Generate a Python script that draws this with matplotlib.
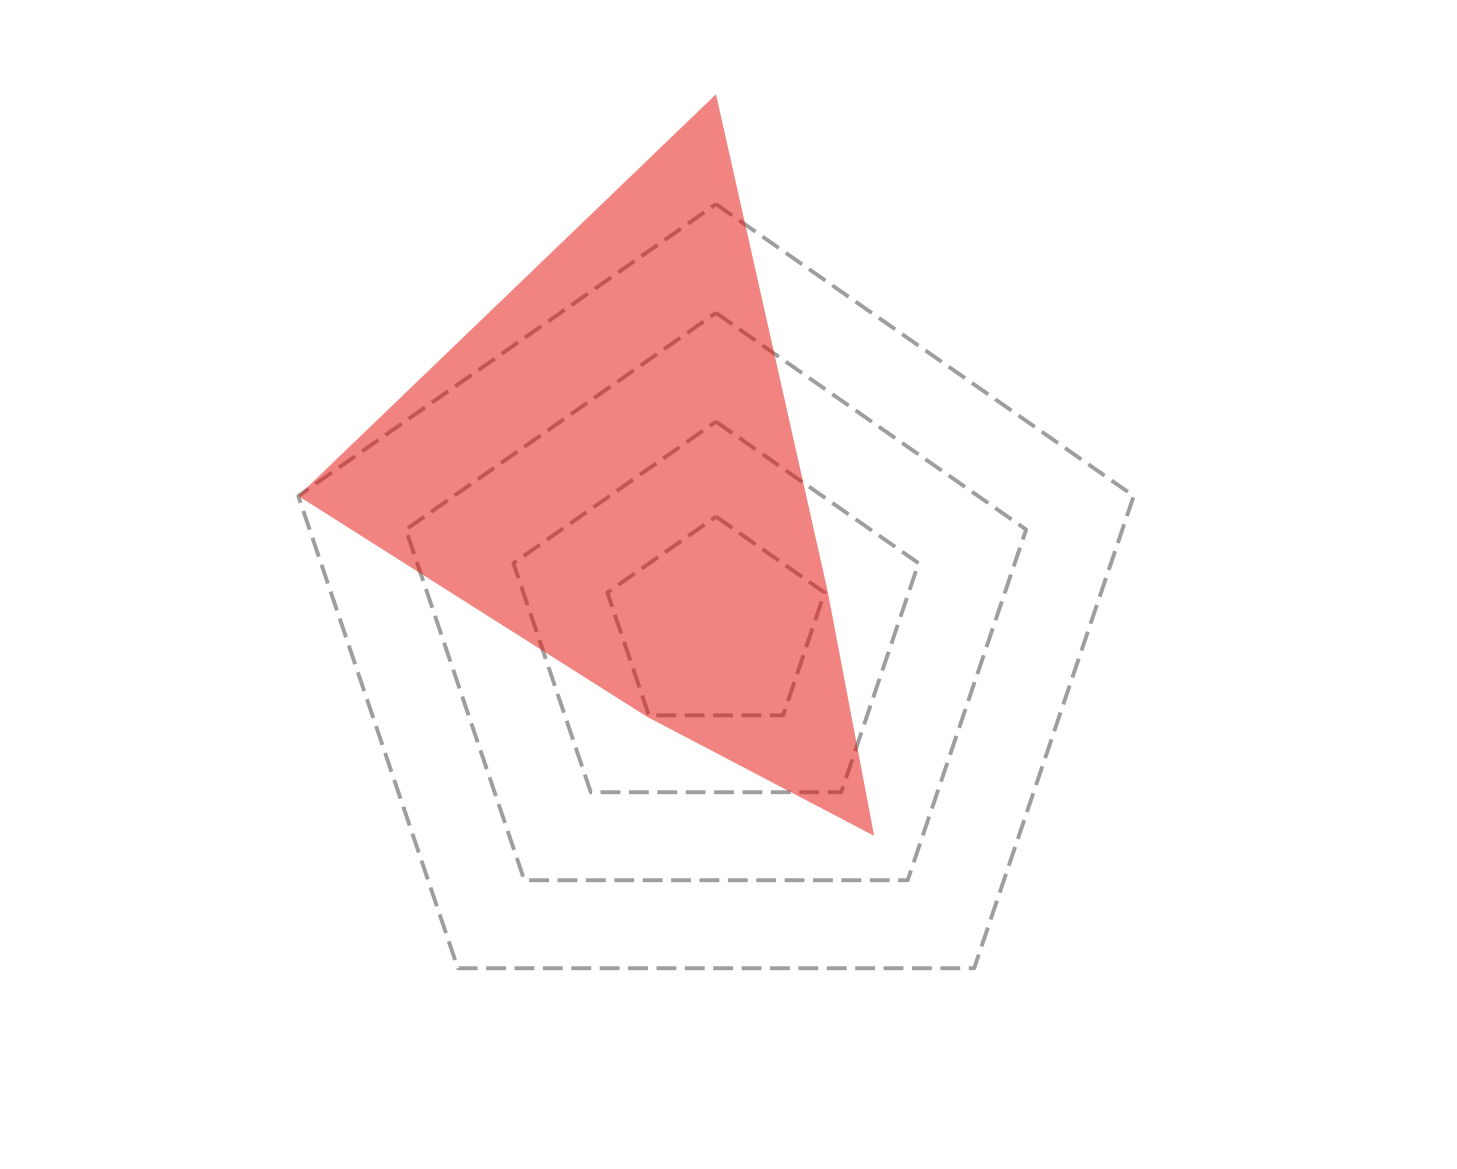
import numpy as np
import matplotlib
matplotlib.use("Agg")
import matplotlib.pyplot as plt

# radar data: axes go clockwise starting at the top
categories = ["A", "B", "C", "D", "E"]
values = [5.04, 1.07, 2.45, 1.06, 4.0]
grid_levels = [1.04, 1.94, 2.97, 4.0]

n = len(categories)
angles = np.pi / 2 - 2 * np.pi * np.arange(n) / n

fig = plt.figure(figsize=(14.57, 11.69), dpi=100)
ax = fig.add_axes([0, 0, 1, 1])

# dashed pentagon grid (under the fill)
for lvl in grid_levels:
    xs = lvl * np.cos(angles)
    ys = lvl * np.sin(angles)
    ax.plot(np.append(xs, xs[0]), np.append(ys, ys[0]),
            color="#9e9e9e", linewidth=2.8, linestyle="--",
            dashes=(5.1, 2.2), zorder=1)

# data polygon on top, semi transparent
v = np.array(values)
ax.fill(v * np.cos(angles), v * np.sin(angles),
        color="#E6150F", alpha=0.53, linewidth=0, zorder=3)

# place centre where the reference has it (slightly stretched horizontally)
sx, sy = 109.8, 105.6
cx, cy = 716, 1169 - 626.5
ax.set_xlim(-cx / sx, (1457 - cx) / sx)
ax.set_ylim(-cy / sy, (1169 - cy) / sy)
ax.axis("off")

fig.savefig("out.png", dpi=100)
